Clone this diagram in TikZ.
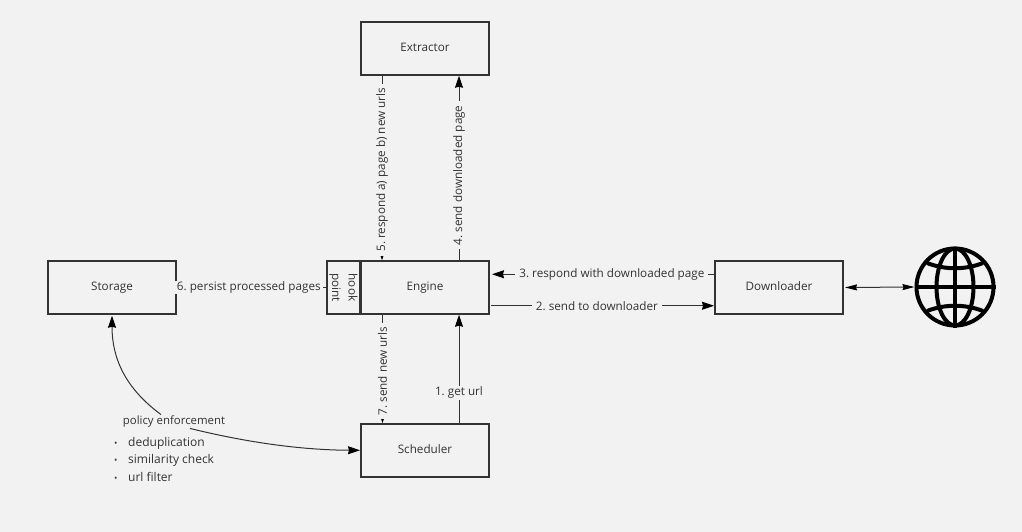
\documentclass[tikz,border=0pt]{standalone}
\usepackage{fontspec}
\setmainfont{Open Sans}
\usetikzlibrary{arrows.meta}
\definecolor{crawlerbg}{RGB}{242, 242, 242}
\definecolor{crawlerline}{RGB}{51, 51, 51}
\tikzset{
    hookblock/.style={draw=crawlerline, line width=2pt, text=crawlerline, inner sep=0pt, minimum width=52.5pt, minimum height=33pt},
    block/.style={hookblock, minimum width=128pt, minimum height=52.5pt, text height=9pt, text depth=3.5pt, font=\fontsize{11.7}{15}\selectfont},
    conn/.style={draw=crawlerline, line width=1pt, -{Stealth[length=12pt,width=8pt,inset=1pt,color=black]}},
    plainconn/.style={draw=crawlerline, line width=1pt},
    lbl/.style={fill=crawlerbg, text=crawlerline, inner xsep=4pt, inner ysep=1pt, font=\fontsize{11.7}{15}\selectfont},
    globeline/.style={draw=black, line width=4pt}
}
\begin{document}
\frenchspacing
\begin{tikzpicture}[x=1pt, y=-1pt]
\useasboundingbox[fill=crawlerbg] (0,0) rectangle (1022,532);
% Boxes
\node[block] (extractor) at (425,48.5) {Extractor};
\node[block] (engine) at (425,287.5) {Engine};
\node[block] (scheduler) at (425,450.3) {Scheduler};
\node[block] (storage) at (112,287.5) {Storage};
\node[block] (downloader) at (779,287.5) {Downloader};
\node[hookblock, align=center, rotate=-90, font=\fontsize{11.7}{16.5}\selectfont] (hook) at (343.5,287.5) {hook\\point};
% Engine and extractor
\draw[conn] ([xshift=22pt]extractor.south west) -- node[lbl, rotate=90, pos=0.51] {5. respond a) page b) new urls} ([xshift=22pt]engine.north west);
\draw[conn] ([xshift=-31pt]engine.north east) -- node[lbl, rotate=90, pos=0.46] {4. send downloaded page} ([xshift=-31pt]extractor.south east);
% Engine and downloader
\draw[conn] ([yshift=-14pt]downloader.north west) -- node[lbl, pos=0.46] {3. respond with downloaded page} ([xshift=2pt,yshift=-14pt]engine.north east);
\draw[conn] ([xshift=1pt,yshift=9pt]engine.south east) -- node[lbl, pos=0.475] {2. send to downloader} ([yshift=9pt]downloader.south west);
% Engine and scheduler
\draw[conn] ([xshift=22.5pt]engine.south west) -- node[lbl, rotate=90, pos=0.52] {7. send new urls} ([xshift=22.5pt]scheduler.north west);
\draw[conn] ([xshift=-31pt]scheduler.north east) -- node[lbl, pos=0.28] {1. get url} ([xshift=-31pt]engine.south east);
% Storage and hook point
\draw[plainconn] (storage.east) -- node[lbl, pos=0.482, inner xsep=2pt] {6. persist processed pages} (hook.south);
% Policy
\node[text=crawlerline, inner sep=1pt, font=\fontsize{11.4}{15}\selectfont] (policy) at (174,421.5) {policy enforcement};
\node[text=crawlerline, anchor=north west, align=left, inner sep=0pt, font=\fontsize{12}{17.5}\selectfont] (filters) at (114,437)
    {\makebox[14pt][l]{\fontsize{9}{9}\selectfont\textbullet}deduplication\\
     \makebox[14pt][l]{\fontsize{9}{9}\selectfont\textbullet}similarity check\\
     \makebox[14pt][l]{\fontsize{9}{9}\selectfont\textbullet}url filter};
\draw[conn] ([xshift=-13pt]policy.north) .. controls (125,388) and (112,358) .. ([yshift=-1pt]storage.south);
\draw[conn] ([xshift=16pt]policy.south) .. controls (245,442) and (300,450) .. (scheduler.west);
% Globe
\coordinate (globe) at (955,287);
\node[circle, globeline, minimum size=77pt, inner sep=0pt] (world) at (globe) {};
\draw[globeline] (world.west) -- (world.east);
\draw[globeline] (world.north) -- (world.south);
\draw[globeline] (globe) ellipse [x radius=18.5, y radius=38.5];
\draw[globeline] (927,263) .. controls (945,270) and (965,270) .. (983,263);
\draw[globeline] (927,311) .. controls (945,304) and (965,304) .. (983,311);
\draw[plainconn, {Stealth[length=12pt,width=6pt,inset=1pt,color=black]}-{Stealth[length=12pt,width=6pt,inset=1pt,color=black]}] ([xshift=1pt]downloader.east) -- (world.west);
\end{tikzpicture}
\end{document}
